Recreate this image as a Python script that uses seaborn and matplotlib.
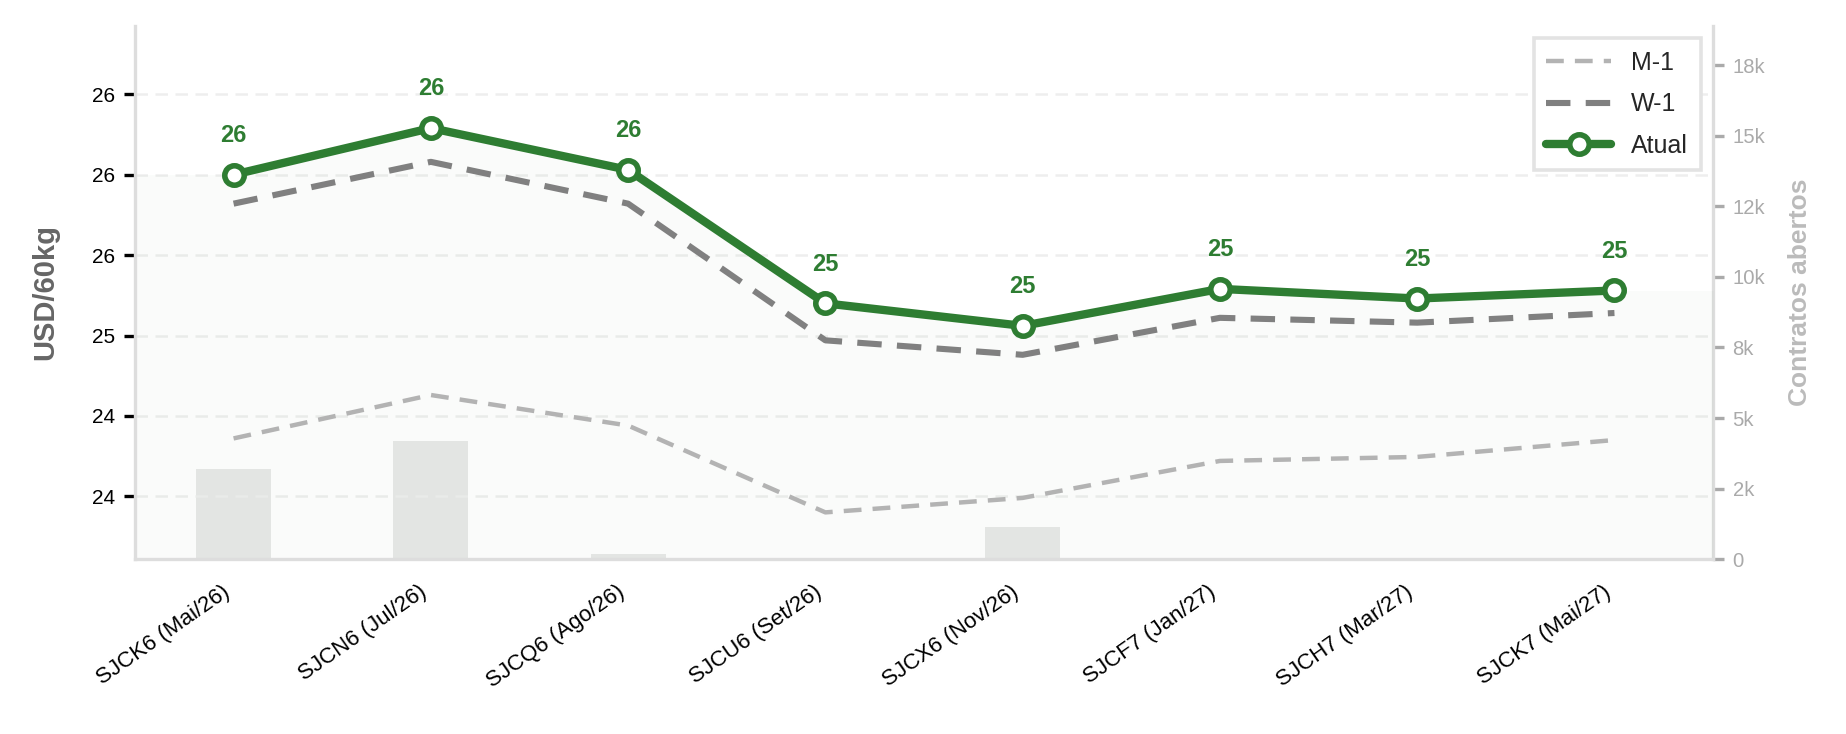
import numpy as np
import pandas as pd
import matplotlib
matplotlib.use("Agg")
import matplotlib.pyplot as plt
import seaborn as sns
from matplotlib.ticker import MultipleLocator, FuncFormatter, StrMethodFormatter

# ---- data ----
contracts = ["SJCK6 (Mai/26)", "SJCN6 (Jul/26)", "SJCQ6 (Ago/26)", "SJCU6 (Set/26)",
             "SJCX6 (Nov/26)", "SJCF7 (Jan/27)", "SJCH7 (Mar/27)", "SJCK7 (Mai/27)"]
atual = [26.00, 26.29, 26.03, 25.20, 25.06, 25.29, 25.23, 25.28]
w1 = [25.82, 26.08, 25.82, 24.97, 24.88, 25.11, 25.08, 25.14]
m1 = [24.36, 24.63, 24.44, 23.90, 23.99, 24.22, 24.245, 24.35]
open_interest = [3200, 4200, 180, 0, 1130, 0, 0, 0]

GREEN = "#2e7d32"

sns.set_theme(style="white")
plt.rcParams["font.family"] = ["Liberation Sans", "DejaVu Sans"]

fig = plt.figure(figsize=(9.23, 3.67), dpi=200)
ax = fig.add_axes([0.0731, 0.2384, 0.8549, 0.7262])
ax2 = ax.twinx()
ax.set_zorder(ax2.get_zorder() + 1)
ax.patch.set_visible(False)

x = np.arange(len(contracts))
df = pd.DataFrame({"x": x, "atual": atual, "w1": w1, "m1": m1, "oi": open_interest})

# bars (open interest) on secondary axis
sns.barplot(data=df, x="x", y="oi", ax=ax2, color="#e8e8e8", width=0.38,
            saturation=1, edgecolor="none", native_scale=True)
ax2.set_ylim(0, 18900)
ax2.yaxis.set_major_locator(MultipleLocator(2500))
ax2.yaxis.set_major_formatter(FuncFormatter(lambda v, p: "0" if v == 0 else f"{v/1000:.0f}k"))
ax2.tick_params(axis="y", colors="#aaaaaa", labelsize=7.3, length=4, width=1.2, pad=3)
ax2.set_ylabel("Contratos abertos", color="#bbbbbb", fontsize=9.5, fontweight="bold", labelpad=8)
ax2.set_xlabel("")
for s in ["top", "left", "bottom"]:
    ax2.spines[s].set_visible(False)
ax2.spines["right"].set_color("#dddddd")
ax2.spines["right"].set_linewidth(1.2)

# faint fill under current curve
ylo = 23.61
xf = np.r_[-0.5, x, 7.5]
yf = np.r_[atual[0], atual, atual[-1]]
ax.fill_between(xf, yf, ylo, color=GREEN, alpha=0.025, linewidth=0, zorder=1)

sns.lineplot(data=df, x="x", y="m1", ax=ax, color="#b3b3b3", linewidth=1.6,
             linestyle=(0, (4, 2.5)), label="M-1", zorder=3)
sns.lineplot(data=df, x="x", y="w1", ax=ax, color="#808080", linewidth=2.2,
             linestyle=(0, (4, 2.5)), label="W-1", zorder=4)
sns.lineplot(data=df, x="x", y="atual", ax=ax, color=GREEN, linewidth=3.0,
             marker="o", markersize=7, markerfacecolor="white", markeredgecolor=GREEN,
             markeredgewidth=2.0, label="Atual", zorder=5)

for xi, yi in zip(x, atual):
    ax.annotate(f"{yi:.0f}", (xi, yi), xytext=(0, 10), textcoords="offset points",
                ha="center", va="bottom", color=GREEN, fontsize=8.5, fontweight="bold")

ax.set_xlim(-0.5, 7.5)
ax.set_ylim(ylo, 26.925)
ax.yaxis.set_major_locator(MultipleLocator(0.5))
ax.yaxis.set_major_formatter(StrMethodFormatter("{x:.0f}"))
ax.set_xticks(x)
ax.set_xticklabels(contracts, rotation=35, ha="right", fontsize=8)
ax.tick_params(axis="y", labelsize=7.5, length=4, width=1.2, colors="black", pad=3)
ax.tick_params(axis="x", length=4, width=1.2, colors="black", pad=4)
ax.grid(axis="y", color="#eeeeee", linestyle=(0, (5, 3)), linewidth=0.9)
ax.grid(axis="x", visible=False)
ax.set_axisbelow(True)
ax.set_xlabel("")
ax.set_ylabel("USD/60kg", color="#666666", fontsize=10.5, fontweight="bold", labelpad=12)
for s in ["top", "right"]:
    ax.spines[s].set_visible(False)
for s in ["left", "bottom"]:
    ax.spines[s].set_color("#dddddd")
    ax.spines[s].set_linewidth(1.2)

leg = ax.legend(loc="upper right", fontsize=9, frameon=True, fancybox=False,
                handlelength=2.6, borderpad=0.5, labelspacing=0.7, borderaxespad=0.5)
leg.get_frame().set_edgecolor("#e3e3e3")
leg.get_frame().set_linewidth(1.3)
leg.get_frame().set_facecolor("white")
leg.get_frame().set_alpha(1)

fig.savefig("out.png", dpi=200)
